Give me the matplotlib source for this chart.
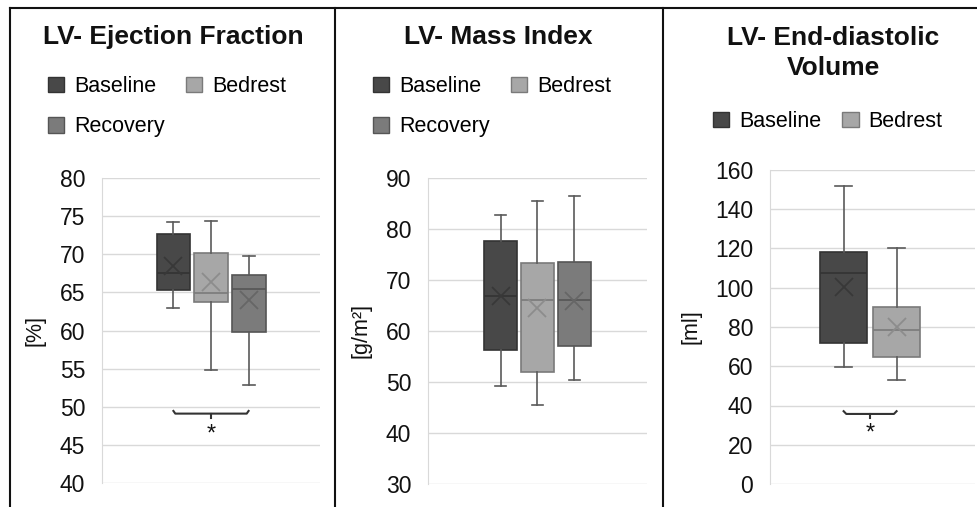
import matplotlib
matplotlib.use('Agg')
import matplotlib.pyplot as plt
from matplotlib.patches import Patch
from matplotlib.lines import Line2D

plt.rcParams['font.family'] = ['Liberation Sans', 'DejaVu Sans']

W, H = 978, 507

groups = ['Baseline', 'Bedrest', 'Recovery']
colors = ['#484848', '#a7a7a7', '#7b7b7b']
edges = ['#333333', '#7a7a7a', '#555555']
mean_cols = ['#383838', '#8c8c8c', '#666666']

# [whislo, q1, median, q3, whishi, mean]
ef_stats = [[62.9, 65.3, 67.5, 72.6, 74.2, 68.4],
            [54.8, 63.8, 64.9, 70.1, 74.4, 66.4],
            [52.8, 59.8, 65.4, 67.3, 69.8, 64.0]]
mass_stats = [[49.3, 56.2, 66.9, 77.7, 82.8, 66.9],
              [45.4, 52.0, 66.1, 73.3, 85.4, 64.5],
              [50.3, 57.1, 66.1, 73.6, 86.5, 65.8]]
edv_stats = [[59.8, 71.7, 107.4, 118.4, 151.8, 100.6],
             [53.0, 64.9, 78.5, 90.4, 120.1, 80.2]]

fig = plt.figure(figsize=(W / 100, H / 100), dpi=100)


def px_axes(x0, x1, y0, y1):
    return fig.add_axes([x0 / W, 1 - y1 / H, (x1 - x0) / W, (y1 - y0) / H])


def draw_panel(ax, stats, ylim, yticks, xlim, ylabel):
    n = len(stats)
    bx = []
    for s in stats:
        bx.append(dict(whislo=s[0], q1=s[1], med=s[2], q3=s[3], whishi=s[4], mean=s[5], fliers=[]))
    pos = list(range(1, n + 1))
    res = ax.bxp(bx, positions=pos, widths=0.9, patch_artist=True, showmeans=True,
                 capwidths=0.32, manage_ticks=False)
    for i in range(n):
        res['boxes'][i].set(facecolor=colors[i], edgecolor=edges[i], linewidth=1.2)
        res['medians'][i].set(color=edges[i], linewidth=1.2)
        res['means'][i].set(marker='x', markersize=13, markeredgecolor=mean_cols[i],
                            markeredgewidth=1.3)
        for w in res['whiskers'][2 * i:2 * i + 2]:
            w.set(color='#5a5a5a', linewidth=1.2)
        for c in res['caps'][2 * i:2 * i + 2]:
            c.set(color='#5a5a5a', linewidth=1.2)
    ax.set_xlim(*xlim)
    ax.set_ylim(*ylim)
    ax.set_yticks(yticks)
    ax.set_xticks([])
    ax.yaxis.grid(True, color='#d9d9d9', linewidth=1)
    ax.set_axisbelow(True)
    for sp in ['top', 'right', 'bottom']:
        ax.spines[sp].set_visible(False)
    ax.spines['left'].set_color('#d9d9d9')
    ax.tick_params(axis='y', length=0, labelsize=16.5, pad=12, labelcolor='#111111')
    ax.set_ylabel(ylabel, fontsize=15.5, labelpad=10, color='#111111')


def bracket(ax, x1, x2, y, dy, star_y):
    xm = (x1 + x2) / 2
    ax.plot([x1, x1 + 0.05, x2 - 0.05, x2], [y + dy, y, y, y + dy], color='#333333', lw=1.5)
    ax.plot([xm, xm], [y, y - 1.6 * dy], color='#333333', lw=1.5)
    ax.text(xm, star_y, '*', ha='center', va='center', fontsize=17, color='#111111')


ax1 = px_axes(102, 320, 178, 483)
draw_panel(ax1, ef_stats, (40, 80), range(40, 81, 5), (-0.9, 4.9), '[%]')
bracket(ax1, 1, 3, 49.1, 0.35, 46.4)

ax2 = px_axes(428, 647, 178, 484)
draw_panel(ax2, mass_stats, (30, 90), range(30, 91, 10), (-0.96, 4.96), '[g/m²]')

ax3 = px_axes(770, 975, 170, 484)
draw_panel(ax3, edv_stats, (0, 160), range(0, 161, 20), (-0.39, 3.48), '[ml]')
bracket(ax3, 1, 2, 35.7, 1.4, 25.5)

# titles
fig.text(173 / W, 1 - 37 / H, 'LV- Ejection Fraction', ha='center', va='center',
         fontsize=19, fontweight='bold', color='#111111')
fig.text(498 / W, 1 - 37 / H, 'LV- Mass Index', ha='center', va='center',
         fontsize=19, fontweight='bold', color='#111111')
fig.text(833 / W, 1 - 53 / H, 'LV- End-diastolic\nVolume', ha='center', va='center',
         fontsize=19, fontweight='bold', color='#111111', linespacing=1.3)

# legends (column-major fill, so order gives rows Baseline/Bedrest, Recovery)
def legend(ax, n, x, y):
    order = [0, 2, 1] if n == 3 else [0, 1]
    handles = [Patch(facecolor=colors[i], edgecolor=edges[i]) for i in order]
    labels = [groups[i] for i in order]
    ax.legend(handles, labels, ncol=2, loc='upper left',
              bbox_to_anchor=(x / W, 1 - y / H), bbox_transform=fig.transFigure,
              frameon=False, fontsize=15.5, handlelength=0.75, handleheight=0.75,
              handletextpad=0.45, columnspacing=1.0, labelspacing=0.9, borderpad=0,
              borderaxespad=0)

legend(ax1, 3, 48, 76)
legend(ax2, 3, 373, 76)
legend(ax3, 2, 713, 111)

# panel frame lines
lc = '#111111'
fig.add_artist(Line2D([9.5 / W, 1], [1 - 8 / H, 1 - 8 / H], color=lc, lw=1.5))
for xp in [9.5, 335, 663]:
    fig.add_artist(Line2D([xp / W, xp / W], [0, 1 - 8 / H], color=lc, lw=1.5))

fig.savefig('out.png', dpi=100, facecolor='white')
